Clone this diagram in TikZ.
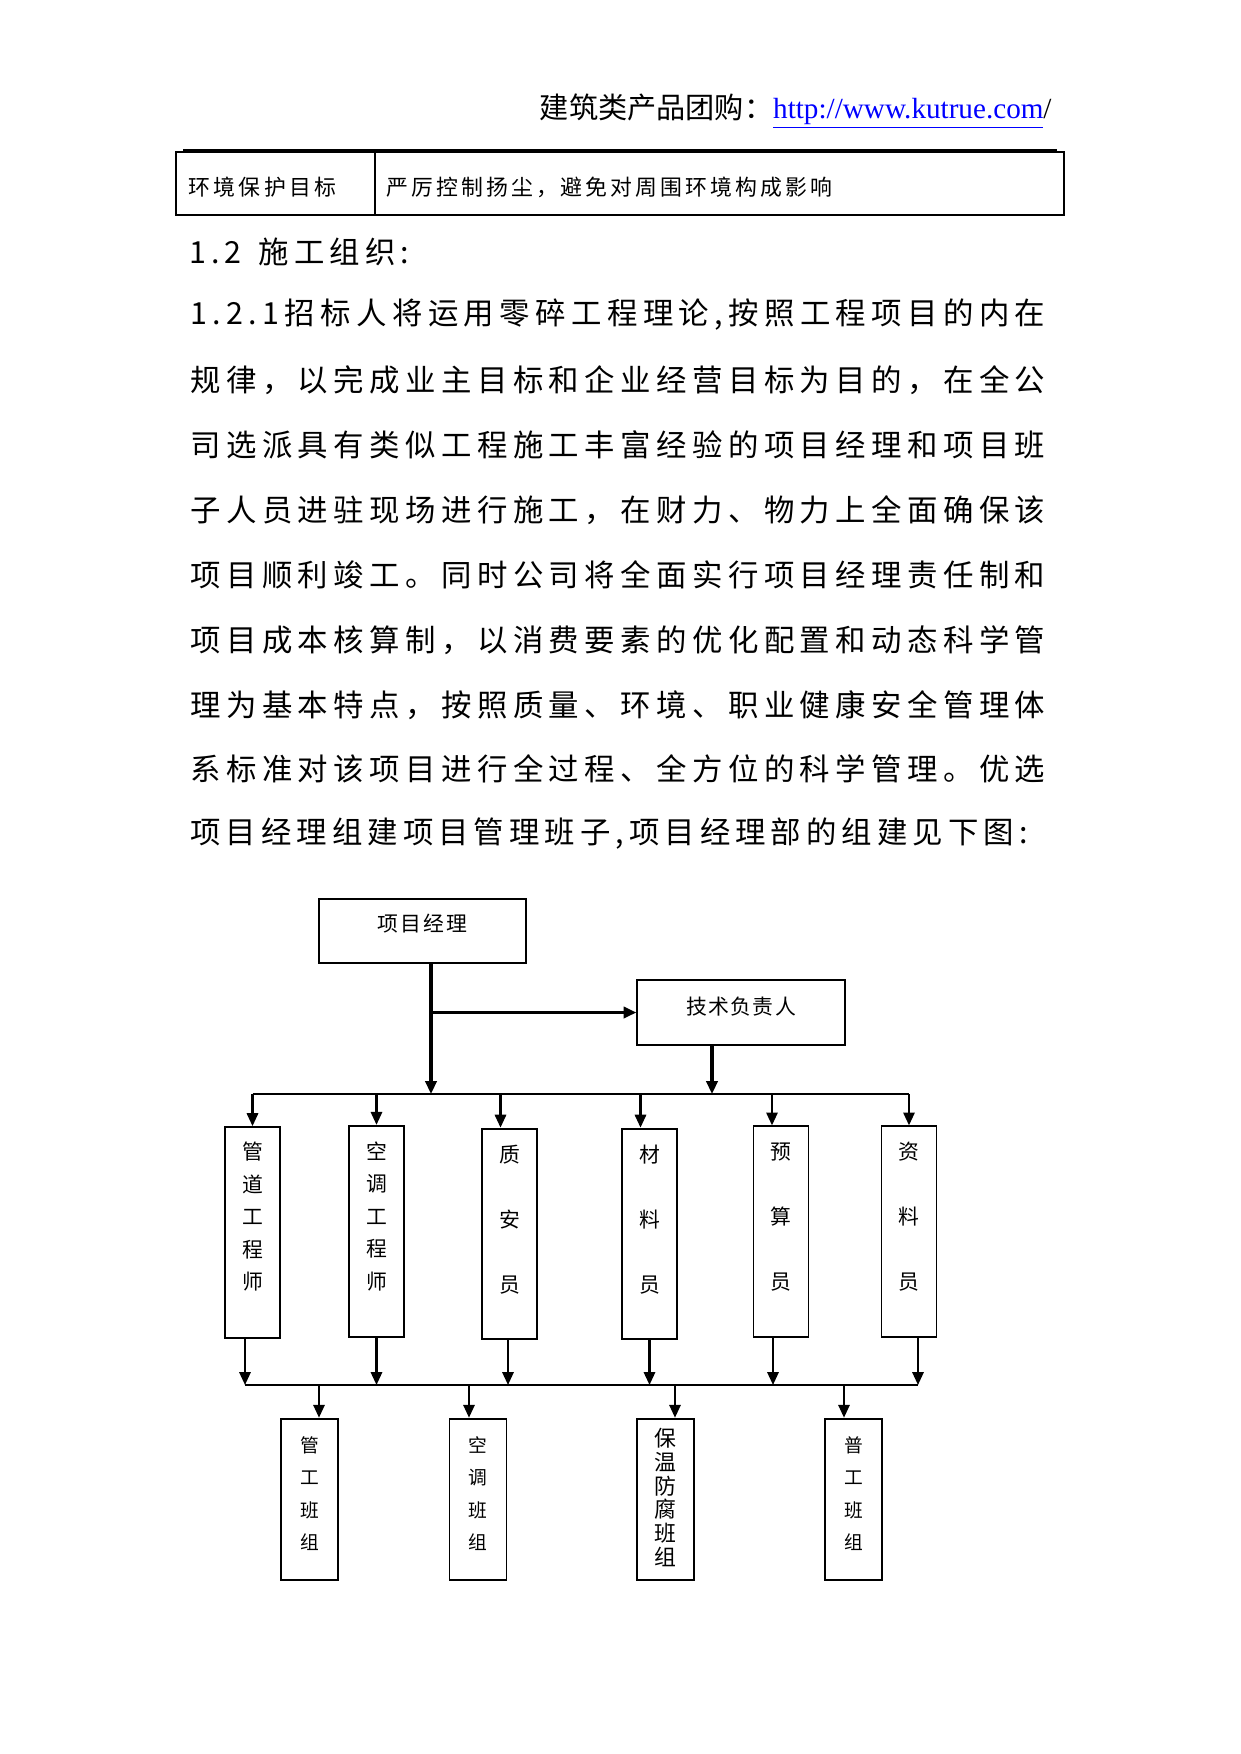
\documentclass[tikz,border=0pt]{standalone}
\usepackage{fontspec}
\setmainfont{Liberation Serif}
\newfontfamily\cjk{Noto Sans CJK SC}
\usetikzlibrary{calc}
\usetikzlibrary{arrows.meta, positioning}

% spread the characters of a line evenly over a given width
\def\spreadend{\spreadend}
\def\spreadchars#1{\spreadA#1\spreadend}
\def\spreadA#1{\ifx#1\spreadend\else#1\expandafter\spreadB\fi}
\def\spreadB#1{\ifx#1\spreadend\else\hfill#1\expandafter\spreadB\fi}
\newcommand\spreadline[2]{\makebox[#1][s]{\spreadchars{#2}}}

\begin{document}
\begin{tikzpicture}[x=0.48pt, y=-0.48pt, >={Triangle[length=6.2pt,width=5.4pt]},
  bodyline/.style={anchor=west, inner sep=0pt, font=\cjk\fontsize{14.6pt}{16pt}\selectfont},
  celltext/.style={anchor=west, inner sep=0pt, font=\cjk\fontsize{10.5pt}{12pt}\selectfont},
  mgrbox/.style={draw, line width=0.9pt, minimum width=99.5pt, minimum height=31pt, inner sep=0pt},
  colbox/.style={draw, line width=0.9pt, minimum width=26.4pt, minimum height=101.2pt, inner sep=0pt},
  teambox/.style={draw, line width=0.9pt, minimum width=27.4pt, minimum height=77.6pt, inner sep=0pt},
  boxtext/.style={inner sep=0pt, font=\cjk\fontsize{10pt}{12pt}\selectfont},
  coltext/.style={inner sep=0pt, align=center, font=\cjk\fontsize{10pt}{15.6pt}\selectfont},
  conn/.style={line width=1.1pt},
  thickconn/.style={line width=1.5pt},
  bus/.style={line width=1pt}]

  \fill[white] (0,0) rectangle (1241,1754);
  \useasboundingbox (0,0) rectangle (1241,1754);

  %--------------------------
  % Header and table
  %--------------------------
  \node[anchor=base east, inner sep=0pt, font=\fontsize{14pt}{16pt}\selectfont] (hdr) at (1052,118)
    {{\cjk 建筑类产品团购：}\textcolor{blue}{\underline{http://www.kutrue.com}}/};

  \draw[line width=1.3pt] (183,150) -- (1057,150);
  \draw[line width=0.6pt] (176,152) rectangle (1064,215);
  \draw[line width=0.6pt] (375,152) -- (375,215);
  \node[celltext] (cellA) at (188,187) {\spreadline{71pt}{环境保护目标}};
  \node[celltext] (cellB) at (386,187) {\spreadline{214pt}{严厉控制扬尘，避免对周围环境构成影响}};

  %--------------------------
  % Body text
  %--------------------------
  \node[bodyline] (head) at (189,252) {\spreadline{105.6pt}{1.2\ 施工组织:}};
  \node[bodyline] (l1) at (190,315) {\spreadline{410.4pt}{1.2.1招标人将运用零碎工程理论,按照工程项目的内在}};
  \node[bodyline] (l2) at (190,380) {\spreadline{410.4pt}{规律，以完成业主目标和企业经营目标为目的，在全公}};
  \node[bodyline] (l3) at (190,445) {\spreadline{410.4pt}{司选派具有类似工程施工丰富经验的项目经理和项目班}};
  \node[bodyline] (l4) at (190,510) {\spreadline{410.4pt}{子人员进驻现场进行施工，在财力、物力上全面确保该}};
  \node[bodyline] (l5) at (190,575) {\spreadline{410.4pt}{项目顺利竣工。同时公司将全面实行项目经理责任制和}};
  \node[bodyline] (l6) at (190,640) {\spreadline{410.4pt}{项目成本核算制，以消费要素的优化配置和动态科学管}};
  \node[bodyline] (l7) at (190,705) {\spreadline{410.4pt}{理为基本特点，按照质量、环境、职业健康安全管理体}};
  \node[bodyline] (l8) at (190,769) {\spreadline{410.4pt}{系标准对该项目进行全过程、全方位的科学管理。优选}};
  \node[bodyline] (l9) at (190,834) {\spreadline{401.8pt}{项目经理组建项目管理班子,项目经理部的组建见下图:}};

  %--------------------------
  % Chart: managers
  %--------------------------
  \node[mgrbox] (pm) at (422.5,931) {};
  \node[boxtext] (pm-t) at ($(pm.center)+(0,-7)$) {\spreadline{43pt}{项目经理}};
  \node[mgrbox] (js) at (741,1012.5) {};
  \node[boxtext] (js-t) at ($(js.center)+(0,-6)$) {\spreadline{52.8pt}{技术负责人}};

  \coordinate (b1w) at (252.5,1094);
  \coordinate (b1e) at (909,1094);
  \draw[bus] (b1w) -- (b1e);

  \coordinate (pmout) at ($(pm.south)+(8.5,0)$);
  \draw[thickconn,->] (pmout) -- (pmout |- b1w);
  \draw[thickconn,->] (pmout |- js.west) -- (js.west);
  \coordinate (jsout) at ($(js.south)+(-29,0)$);
  \draw[thickconn,->] (jsout) -- (jsout |- b1w);

  %--------------------------
  % Chart: staff
  %--------------------------
  \node[colbox] (gdgcs) at (252.5,1232.5) {};
  \node[colbox, line width=1.2pt] (ktgcs) at (376.5,1231.5) {};
  \node[colbox] (zay) at (509.5,1234) {};
  \node[colbox] (cly) at (649.5,1234) {};
  \node[colbox, line width=0.65pt] (ysy) at (781,1231.5) {};
  \node[colbox, line width=0.65pt] (zly) at (909,1231.5) {};

  \node[coltext] (gdgcs-t) at ($(gdgcs.center)+(0,-15.5)$) {管\\道\\工\\程\\师};
  \node[coltext] (ktgcs-t) at ($(ktgcs.center)+(0,-15.5)$) {空\\调\\工\\程\\师};
  \node[coltext, font=\cjk\fontsize{10pt}{31.2pt}\selectfont] (zay-t) at ($(zay.center)+(0,-14)$) {质\\安\\员};
  \node[coltext, font=\cjk\fontsize{10pt}{31.2pt}\selectfont] (cly-t) at ($(cly.center)+(0,-14)$) {材\\料\\员};
  \node[coltext, font=\cjk\fontsize{10pt}{31.2pt}\selectfont] (ysy-t) at ($(ysy.center)+(0,-14.5)$) {预\\算\\员};
  \node[coltext, font=\cjk\fontsize{10pt}{31.2pt}\selectfont] (zly-t) at ($(zly.center)+(0,-14.5)$) {资\\料\\员};

  \foreach \n/\dx in {gdgcs/0, ktgcs/0, zay/-9, cly/-9, ysy/-9, zly/0} {
    \coordinate (t) at ($(\n.north)+(\dx,0)$);
    \draw[conn,->] (t |- b1w) -- (t);
  }

  \coordinate (b2w) at (245,1385);
  \coordinate (b2e) at (918,1385);
  \draw[bus] (b2w) -- (b2e);

  \foreach \n/\dx in {gdgcs/-7.5, ktgcs/0, zay/-1.5, cly/0, ysy/-8, zly/9} {
    \coordinate (t) at ($(\n.south)+(\dx,0)$);
    \draw[conn,->] (t) -- (t |- b2w);
  }

  %--------------------------
  % Chart: work teams
  %--------------------------
  \node[teambox] (ggbz) at (309.5,1499.5) {};
  \node[teambox] (ktbz) at (478,1499.5) {};
  \node[teambox] (bwff) at (665.5,1499.5) {};
  \node[teambox] (pgbz) at (853.5,1499.5) {};

  \node[coltext, font=\cjk\fontsize{9pt}{15.5pt}\selectfont] (ggbz-t) at ($(ggbz.center)+(0,-6)$) {管\\工\\班\\组};
  \node[coltext, font=\cjk\fontsize{9pt}{15.5pt}\selectfont] (ktbz-t) at ($(ktbz.center)+(0,-6)$) {空\\调\\班\\组};
  \node[coltext, font=\cjk\fontsize{10.5pt}{11.4pt}\selectfont] (bwff-t) at ($(bwff.center)+(0,-2)$) {保\\温\\防\\腐\\班\\组};
  \node[coltext, font=\cjk\fontsize{9pt}{15.5pt}\selectfont] (pgbz-t) at ($(pgbz.center)+(0,-6)$) {普\\工\\班\\组};

  \foreach \n/\dx in {ggbz/9.5, ktbz/-9, bwff/9.5, pgbz/-9.5} {
    \coordinate (t) at ($(\n.north)+(\dx,0)$);
    \draw[conn,->] (t |- b2w) -- (t);
  }

\end{tikzpicture}
\end{document}
